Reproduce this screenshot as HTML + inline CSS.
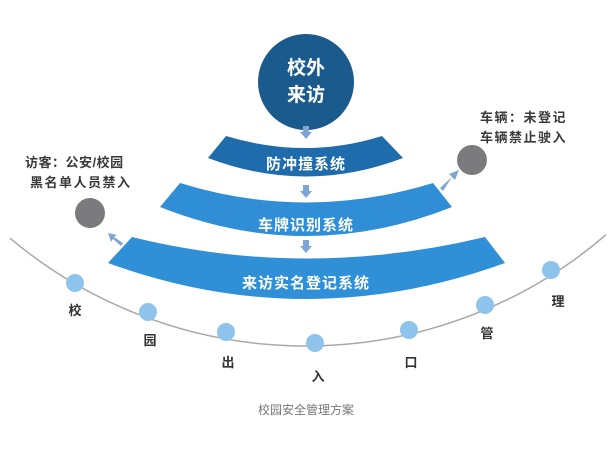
<!DOCTYPE html>
<html><head><meta charset="utf-8"><style>
html,body{margin:0;padding:0;background:#fff;}
svg{display:block;}
text{font-family:"Liberation Sans","Noto Sans CJK SC",sans-serif;font-weight:bold;}
</style></head><body>
<svg width="616" height="455" viewBox="0 0 616 455" xmlns="http://www.w3.org/2000/svg">
<defs>
<clipPath id="c"><rect x="10" y="0" width="596" height="400"/></clipPath>
</defs>
<circle cx="306" cy="-114" r="460" fill="none" stroke="#a8a8a8" stroke-width="1.5" clip-path="url(#c)"/>
<circle cx="306" cy="82" r="48" fill="#1b5a8c"/>
<text x="306" y="74" font-size="19" fill="#fff" text-anchor="middle">校外</text>
<text x="306" y="101" font-size="19" fill="#fff" text-anchor="middle">来访</text>
<path d="M226 136 Q306 160 382 136 L403 158 Q306 195 208 158 Z" fill="#1e6cab"/>
<text x="306" y="169" font-size="15" fill="#fff" text-anchor="middle" letter-spacing="1">防冲撞系统</text>
<path d="M180 183 Q306 222 433 183 L452 207 Q306 265 160 207 Z" fill="#2f8ed5"/>
<text x="306" y="230" font-size="15" fill="#fff" text-anchor="middle" letter-spacing="1">车牌识别系统</text>
<path d="M132 237 Q306 280 485 237 L505 263 Q306 335 108 263 Z" fill="#2f90d8"/>
<text x="306" y="288" font-size="15" fill="#fff" text-anchor="middle" letter-spacing="1">来访实名登记系统</text>
<g fill="#7ea6d2">
<path d="M303 126 h6 v6 h3 l-6 7 l-6 -7 h3 z"/>
<path d="M303 185 h6 v6 h3 l-6 7 l-6 -7 h3 z"/>
<path d="M303 240 h6 v6 h3 l-6 7 l-6 -7 h3 z"/>
</g>
<g fill="#7ea6d2">
<path d="M440 188 L452 177 L449 174 L459 170 L455 180 L452 177 L443 191 Z"/>
<path d="M121 246 L113 239 L111 242 L108 233 L117 235 L114 237 L123 243 Z"/>
</g>
<circle cx="90" cy="213" r="15" fill="#7b7b7d"/>
<circle cx="472" cy="160" r="15" fill="#7b7b7d"/>
<g font-size="13" fill="#3a3a3a">
<text x="25" y="167" letter-spacing="0.5">访客：公安/校园</text>
<text x="30" y="187" letter-spacing="1.5">黑名单人员禁入</text>
<text x="480" y="122" letter-spacing="1.5">车辆：未登记</text>
<text x="480" y="142" letter-spacing="1.5">车辆禁止驶入</text>
</g>
<g fill="#8ec4ec">
<circle cx="75" cy="283" r="9"/>
<circle cx="148" cy="312" r="9"/>
<circle cx="226" cy="332" r="9"/>
<circle cx="315" cy="343" r="9"/>
<circle cx="409" cy="330" r="9"/>
<circle cx="485" cy="305" r="9"/>
<circle cx="551" cy="270" r="9"/>
</g>
<g font-size="13" fill="#333" text-anchor="middle">
<text x="75" y="315">校</text>
<text x="150" y="345">园</text>
<text x="228" y="367">出</text>
<text x="318" y="381">入</text>
<text x="411" y="367">口</text>
<text x="487" y="338">管</text>
<text x="558" y="306">理</text>
</g>
<text x="306" y="414" font-size="12" fill="#777" text-anchor="middle" style="font-weight:normal">校园安全管理方案</text>
</svg>
</body></html>
